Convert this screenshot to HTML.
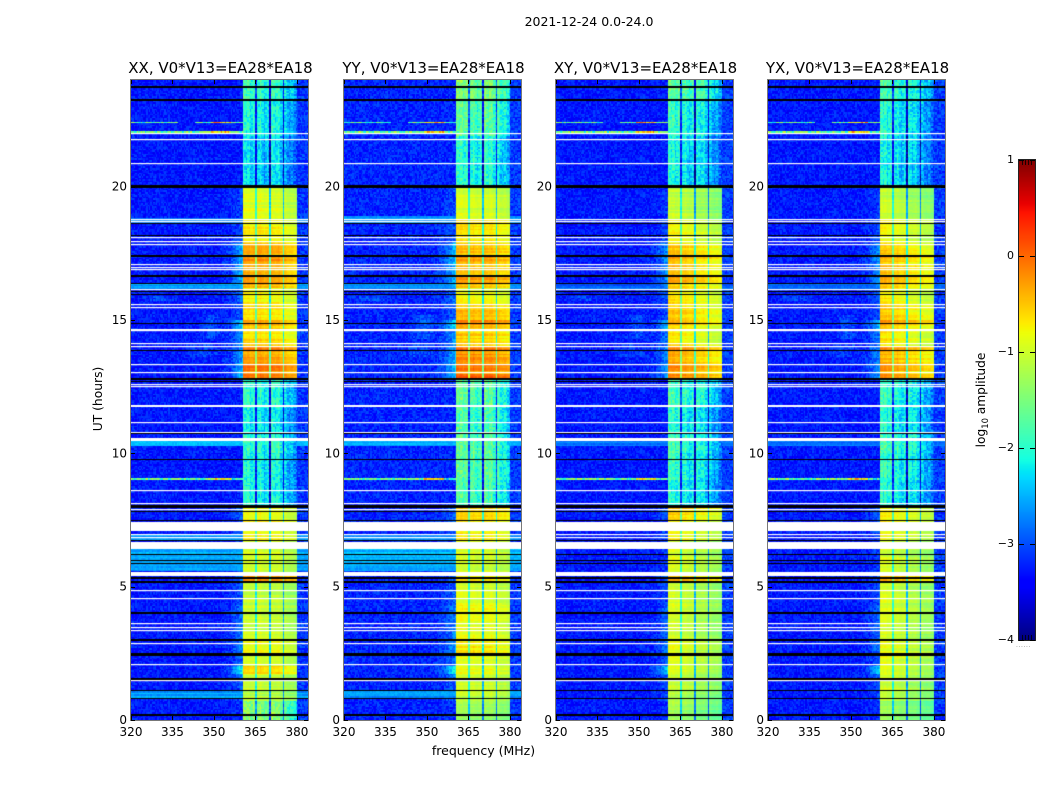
<!DOCTYPE html>
<html lang="en">
<head>
<meta charset="utf-8">
<title>2021-12-24 0.0-24.0</title>
<style>
  html, body { margin: 0; padding: 0; background: #fff; }
  #figure { position: relative; width: 1050px; height: 800px; overflow: hidden; background: #fff; font-family: "DejaVu Sans", "Liberation Sans", sans-serif; }
  canvas { position: absolute; display: block; }
  #chart-overlay { position: absolute; left: 0; top: 0; }
  text { font-family: "DejaVu Sans", "Liberation Sans", sans-serif; fill: #000; }
</style>
</head>
<body>
<div id="figure">
  <canvas id="heat-xx" width="177" height="640" style="left:131px;top:80px"></canvas>
  <canvas id="heat-yy" width="177" height="640" style="left:344px;top:80px"></canvas>
  <canvas id="heat-xy" width="177" height="640" style="left:556px;top:80px"></canvas>
  <canvas id="heat-yx" width="177" height="640" style="left:768px;top:80px"></canvas>
  <canvas id="colorbar-canvas" width="16" height="480" style="left:1019px;top:160px"></canvas>
  <svg id="chart-overlay" width="1050" height="800" xmlns="http://www.w3.org/2000/svg">
    <text x="589" y="26" font-size="12.5" text-anchor="middle">2021-12-24 0.0-24.0</text>
    <text x="483.5" y="755" font-size="12.5" text-anchor="middle">frequency (MHz)</text>
    <text x="0" y="0" font-size="12.3" text-anchor="middle" transform="translate(102,399) rotate(-90)">UT (hours)</text>
    <text x="0" y="0" font-size="12.2" text-anchor="middle" transform="translate(985,400) rotate(-90)">log<tspan font-size="8.4" dy="3">10</tspan><tspan dy="-3"> amplitude</tspan></text>
    <text x="1016" y="647" font-size="6" letter-spacing="0.6" fill="#777" style="fill:#777">......</text>
  </svg>
</div>
<script>
/* ---------- axis data ---------- */
const freqTicks = [320, 335, 350, 365, 380];
const hourTicks = [0, 5, 10, 15, 20];
const colorTicks = [1, 0, -1, -2, -3, -4];
const panelNames = ['xx', 'yy', 'xy', 'yx'];
const panelTitles = ['XX, V0*V13=EA28*EA18', 'YY, V0*V13=EA28*EA18', 'XY, V0*V13=EA28*EA18', 'YX, V0*V13=EA28*EA18'];

/* ---------- time segments (upper edge, hours) ---------- */
const segmentTops = [24, 23.3, 21.9, 20, 18.8, 17.9, 16.2, 15.6, 15, 14.6, 14, 13.4, 12.8, 11.7, 10.7, 10, 9, 8, 7.5, 6.7, 5.4, 5.2, 4.3, 3, 2.5, 2.05, 1.75, 1.5, 1.1, 0.7];

/* in-band log10 amplitude per segment */
const xxBandLevel = [-2.0, -2.2, -2.4, -0.95, -0.75, -0.45, -0.8, -0.7, -0.55, -0.65, -0.4, -0.35, -2.1, -2.3, -2.05, -2.2, -2.2, -0.85, -0.8, -1.05, -0.4, -1.15, -1.05, -0.9, -1.05, -0.6, -1.05, -1.1, -1.2, -1.55];
const yyBandLevel = [-1.6, -1.8, -2.1, -1.0, -0.65, -0.5, -0.85, -0.55, -0.45, -0.55, -0.25, -0.3, -1.8, -1.9, -1.8, -1.8, -1.9, -0.65, -0.7, -1.0, -0.8, -1.0, -0.85, -0.75, -0.9, -0.85, -1.0, -1.05, -1.1, -1.35];
const xyBandLevel = [-1.8, -2.1, -2.25, -1.15, -0.85, -0.6, -0.75, -0.65, -0.65, -0.75, -0.5, -0.55, -2.0, -2.2, -2.0, -2.1, -2.2, -0.65, -0.8, -1.05, -0.55, -1.1, -1.05, -1.0, -1.05, -1.0, -1.05, -1.1, -1.2, -1.35];
const yxBandLevel = [-2.0, -2.2, -2.3, -1.15, -0.9, -0.6, -0.8, -0.65, -0.65, -0.75, -0.5, -0.55, -2.1, -2.2, -2.0, -2.1, -2.2, -0.9, -0.85, -1.05, -0.6, -1.05, -1.05, -0.95, -1.0, -0.95, -1.05, -1.1, -1.25, -1.45];

/* brighter in-band streaks */
const streakTop = [17.4, 16.66, 15.0, 14.0, 13.3, 12.95, 5.35];
const streakBottom = [17.2, 16.4, 14.85, 13.85, 13.1, 12.8, 5.2];
const streakLift = [0.15, 0.2, 0.25, 0.2, 0.25, 0.3, 0.1];

/* rise of the lower band shoulder per segment */
const shoulderLevel = [0, 0, 0, 0.2, 0.3, 0.8, 0.4, 0.3, 1.0, 0.6, 0.7, 0.8, 0, 0, 0, 0, 0, 0.4, 0.3, 0.2, 0.4, 0.3, 0.5, 0.6, 0.4, 1.2, 0.5, 0.3, 0.3, 0.1];
const shoulderShape = [0, 0.02, 0.05, 0.1, 0.15, 0.2, 0.3, 0.45, 0.6, 0.8, 1];
const shoulderGain = [1, 1, 0.8, 0.8];

/* quiet out-of-band level per panel */
const backgroundLevel = [-3.28, -3.22, -3.28, -3.28];
const edgeBackground = [-3.1, -3.1, -3.1, -3.1];

/* spectral windows */
const bandEdges = [360.7, 380];
const gapFreqs = [365.3, 370.4, 375.4];
const gapDepth = [-1.0, -1.4, -1.5];
const windowOffsetXx = [0.05, 0.05, 0, -0.15];
const windowOffsetYy = [0.05, 0, 0, -0.1];
const windowOffsetXy = [0.1, 0, -0.15, -0.25];
const windowOffsetYx = [0.1, 0, -0.15, -0.25];
const quietWindowOffset = [0.05, -0.05, 0.05, -0.15];
const channelRipple = [0.2, 0.05, -0.05, 0.1, 0.05, -0.15, -0.05, 0.05, 0.1, -0.2, 0.1, 0.05, 0.2, 0.05, -0.05, -0.2, -0.05, 0.1, 0, -0.1, 0.2, 0.15, 0.05, -0.05, 0.05, 0.15, 0.05, -0.15, -0.2, 0.1, 0.2, 0.1, -0.05, -0.1, -0.05, 0, -0.1, -0.2, -0.3];

/* wide-band glow rows: top hour, bottom hour, level */
const xxGlowTop = [18.85, 16.37, 10.47, 6.97, 6.41, 1.1];
const xxGlowBottom = [18.62, 16.17, 10.27, 6.75, 5.56, 0.79];
const xxGlowLevel = [-2.7, -2.6, -2.5, -2.65, -2.6, -2.6];
const yyGlowTop = [18.9, 16.4, 10.47, 6.97, 6.41, 1.1];
const yyGlowBottom = [18.62, 16.17, 10.27, 6.75, 5.56, 0.79];
const yyGlowLevel = [-2.7, -2.65, -2.55, -2.65, -2.5, -2.65];
const xyGlowTop = [16.37, 10.47];
const xyGlowBottom = [16.17, 10.27];
const xyGlowLevel = [-2.9, -2.8];
const yxGlowTop = [16.37, 10.47];
const yxGlowBottom = [16.17, 10.27];
const yxGlowLevel = [-2.9, -2.8];

/* faint emission patches */
const patchTop = [15.2, 15.9, 14.1];
const patchBottom = [14.3, 15.7, 13.6];
const patchFreqLow = [344, 322, 338];
const patchFreqHigh = [354, 338, 356];
const patchLift = [0.3, 0.25, 0.2];

/* narrow interference lines */
const spikeHours = [22.4, 22.4, 22.4, 22.05, 22.05, 9.03, 9.03, 9.03];
const spikeFreqLow = [320, 343, 349, 320, 349, 320, 349, 356];
const spikeFreqHigh = [337, 362, 356, 362, 356, 349, 356, 362];
const spikeLevel = [-1.7, -1.6, -0.4, -1.6, -0.6, -1.6, -0.7, -2.0];

/* flagged rows */
const whiteHours = [22.0, 21.78, 20.9, 18.79, 18.7, 18.1, 17.97, 17.85, 17.1, 17.0, 16.9, 16.17, 15.6, 15.49, 14.67, 14.61, 14.15, 14.04, 13.34, 13.06, 12.6, 12.52, 11.16, 10.81, 8.61, 8.12, 7.92, 6.97, 6.87, 6.67, 4.86, 4.56, 3.65, 3.47, 3.36, 2.9, 2.09, 1.5];
const whiteBlockTop = [11.82, 10.56, 7.44, 6.64, 5.56];
const whiteBlockBottom = [11.74, 10.45, 7.09, 6.41, 5.4];
const blackHours = [23.74, 23.25, 20.0, 18.62, 18.16, 17.4, 16.66, 16.37, 16.06, 15.96, 14.87, 13.84, 12.79, 12.69, 10.74, 9.77, 8.0, 7.81, 7.47, 6.75, 6.2, 6.0, 5.88, 5.31, 5.17, 4.0, 3.0, 2.47, 1.55, 1.1, 0.79, 0.19];
const blackThickness = [2, 2, 3, 1, 1, 2, 2, 1, 1, 1, 1, 1, 2, 1, 1, 1, 3, 1, 1, 1, 1, 1, 1, 2, 2, 2, 2, 3, 2, 1, 1, 2];

/* fine grain texture */
const speckle = [0.4, -0.7, 0.1, 0.9, -0.3, -0.9, 0.6, 0.2, -0.5, 0.8, -0.1, -0.6, 0.3, 1, -0.8, 0, 0.5, -0.4, 0.7, -1, 0.2, 0.6, -0.2, -0.7, 0.9, 0.1, -0.5, 0.4, -0.9, 0.3, 0.8, -0.3, -0.1, 0.5, -0.6, 1, -0.8, 0.2, -0.4, 0.7, 0, -1, 0.6, 0.3, -0.2, 0.9, -0.7, 0.1, 0.4, -0.5, 0.8, -0.9, 0.2, -0.3, 0.5, 0.7, -0.6, -0.1, 0.3, -0.8, 0.6];

/* ---------- scales ---------- */
const panelLefts = [131, 344, 556, 768];
const plotTop = 80, plotHeight = 640, plotWidth = 177;
const freqMin = 320, freqMax = 384, hourMax = 24;
const valueMin = -4, valueMax = 1;
const xScale = f => (f - freqMin) / (freqMax - freqMin) * plotWidth;
const yScale = h => (hourMax - h) / hourMax * plotHeight;
const colorScale = v => (valueMax - v) / (valueMax - valueMin) * 480;

function ramp(t, pts) {
  for (let i = 1; i < pts.length; i++) {
    if (t <= pts[i][0]) {
      const a = pts[i - 1], b = pts[i];
      return a[1] + (b[1] - a[1]) * (t - a[0]) / (b[0] - a[0]);
    }
  }
  return pts[pts.length - 1][1];
}
function jet(value) {
  const t = Math.max(0, Math.min(1, (value - valueMin) / (valueMax - valueMin)));
  const r = ramp(t, [[0, 0], [0.35, 0], [0.66, 1], [0.89, 1], [1, 0.5]]);
  const g = ramp(t, [[0, 0], [0.125, 0], [0.375, 1], [0.64, 1], [0.91, 0], [1, 0]]);
  const b = ramp(t, [[0, 0.5], [0.11, 1], [0.34, 1], [0.65, 0], [1, 0]]);
  return 'rgb(' + Math.round(r * 255) + ',' + Math.round(g * 255) + ',' + Math.round(b * 255) + ')';
}

/* ---------- heatmaps ---------- */
const bandLevels = [xxBandLevel, yyBandLevel, xyBandLevel, yxBandLevel];
const windowOffsets = [windowOffsetXx, windowOffsetYy, windowOffsetXy, windowOffsetYx];
const glowTops = [xxGlowTop, yyGlowTop, xyGlowTop, yxGlowTop];
const glowBottoms = [xxGlowBottom, yyGlowBottom, xyGlowBottom, yxGlowBottom];
const glowLevels = [xxGlowLevel, yyGlowLevel, xyGlowLevel, yxGlowLevel];

const channelWidth = 0.5, rowHours = 0.06;
const channelCount = Math.round((freqMax - freqMin) / channelWidth);
const rowCount = Math.round(hourMax / rowHours);

function segmentIndex(h) {
  let s = 0;
  for (let i = 0; i < segmentTops.length; i++) if (h <= segmentTops[i]) s = i;
  return s;
}

function cellValue(p, ch, row) {
  const f = freqMin + (ch + 0.5) * channelWidth;
  const h = hourMax - (row + 0.5) * rowHours;
  const s = segmentIndex(h);
  const grain = speckle[(ch * ch * 3 + row * row * 5 + ch * row * 7 + ch + 3 * row + p * 11) % speckle.length];
  const rowGrain = speckle[(row * 17 + p * 5) % speckle.length];
  const level = bandLevels[p][s];

  if (f >= bandEdges[0] && f <= bandEdges[1]) {
    let w = 0;
    for (let g = 0; g < gapFreqs.length; g++) if (f > gapFreqs[g]) w = g + 1;
    let depth = 0;
    for (let g = 0; g < gapFreqs.length; g++) if (Math.abs(f - gapFreqs[g]) < 0.3) depth = gapDepth[g];
    const quiet = level < -1.45;
    const idx = Math.round((f - bandEdges[0]) / channelWidth);
    const ripple = channelRipple[Math.min(idx, channelRipple.length - 1)] * (quiet ? 1.2 : 0.4);
    const extra = quiet ? quietWindowOffset[w] : rowGrain * 0.13;
    let lift = 0;
    for (let k = 0; k < streakTop.length; k++) {
      if (h <= streakTop[k] && h >= streakBottom[k]) lift = streakLift[k];
    }
    return level + lift + windowOffsets[p][w] + extra + ripple + depth + grain * (quiet ? 0.3 : 0.07);
  }

  let v = f > bandEdges[1] ? edgeBackground[p] : backgroundLevel[p];
  let amp = 0.25;
  for (let g = 0; g < glowTops[p].length; g++) {
    if (h <= glowTops[p][g] && h >= glowBottoms[p][g] && glowLevels[p][g] > v) {
      v = glowLevels[p][g] + rowGrain * 0.14;
      amp = 0.1;
    }
  }
  for (let k = 0; k < patchTop.length; k++) {
    if (h <= patchTop[k] && h >= patchBottom[k] && f >= patchFreqLow[k] && f <= patchFreqHigh[k]) {
      const mid = (patchFreqLow[k] + patchFreqHigh[k]) / 2;
      const half = (patchFreqHigh[k] - patchFreqLow[k]) / 2;
      v += patchLift[k] * (1 - Math.abs(f - mid) / half);
    }
  }
  if (f >= 350 && f < bandEdges[0]) {
    const sw = shoulderShape[Math.min(Math.floor(f - 350), shoulderShape.length - 1)];
    v = Math.max(v, backgroundLevel[p] + shoulderLevel[s] * shoulderGain[p] * sw * 1.1);
  }
  v += grain * amp;
  for (let k = 0; k < spikeHours.length; k++) {
    if (Math.abs(h - spikeHours[k]) < rowHours / 2 && f >= spikeFreqLow[k] && f <= spikeFreqHigh[k]) {
      v = spikeLevel[k] + grain * 0.6;
    }
  }
  return v;
}

panelNames.forEach(function (name, p) {
  const ctx = document.getElementById('heat-' + name).getContext('2d');
  for (let row = 0; row < rowCount; row++) {
    const y0 = Math.round(yScale(hourMax - row * rowHours));
    const y1 = Math.round(yScale(hourMax - (row + 1) * rowHours));
    for (let ch = 0; ch < channelCount; ch++) {
      const x0 = Math.round(xScale(freqMin + ch * channelWidth));
      const x1 = Math.round(xScale(freqMin + (ch + 1) * channelWidth));
      ctx.fillStyle = jet(cellValue(p, ch, row));
      ctx.fillRect(x0, y0, x1 - x0, y1 - y0);
    }
  }
  ctx.fillStyle = '#fff';
  whiteBlockTop.forEach(function (top, i) {
    const y0 = Math.round(yScale(top));
    ctx.fillRect(0, y0, plotWidth, Math.round(yScale(whiteBlockBottom[i])) - y0);
  });
  whiteHours.forEach(function (h) {
    ctx.fillRect(0, Math.round(yScale(h)), plotWidth, 1.2);
  });
  ctx.fillStyle = '#000';
  blackHours.forEach(function (h, i) {
    ctx.fillRect(0, Math.round(yScale(h) - blackThickness[i] / 2), plotWidth, blackThickness[i]);
  });
});

/* ---------- colorbar ---------- */
(function () {
  const ctx = document.getElementById('colorbar-canvas').getContext('2d');
  for (let y = 0; y < 480; y++) {
    ctx.fillStyle = jet(valueMax - (y + 0.5) / 480 * (valueMax - valueMin));
    ctx.fillRect(0, y, 16, 1);
  }
})();

/* ---------- axes ---------- */
const NS = 'http://www.w3.org/2000/svg';
const svg = document.getElementById('chart-overlay');
function svgEl(tag, attrs, txt) {
  const el = document.createElementNS(NS, tag);
  for (const k in attrs) el.setAttribute(k, attrs[k]);
  if (txt !== undefined) el.textContent = txt;
  svg.appendChild(el);
  return el;
}

panelNames.forEach(function (name, p) {
  const left = panelLefts[p];
  const frame = svgEl('rect', { x: left - 0.5, y: plotTop - 0.5, width: plotWidth + 1, height: plotHeight + 1, fill: 'none', stroke: '#777', 'stroke-width': 1 });
  
  

  const title = svgEl('text', { x: left + 89.5, y: 73, 'font-size': 15, 'text-anchor': 'middle' }, panelTitles[p]);
  
  

  freqTicks.forEach(function (f) {
    const x = Math.round(left + xScale(f)) + 0.5;
    const bottomTick = svgEl('line', { x1: x, x2: x, y1: plotTop + plotHeight, y2: plotTop + plotHeight - 4, stroke: '#000', 'stroke-width': 1 });
    
    
    const topTick = svgEl('line', { x1: x, x2: x, y1: plotTop, y2: plotTop + 4, stroke: '#000', 'stroke-width': 1 });
    
    
    const label = svgEl('text', { x: left + xScale(f), y: 736, 'font-size': 12, 'text-anchor': 'middle' }, String(f));
    
    
  });

  hourTicks.forEach(function (h) {
    const y = Math.round(plotTop + yScale(h)) + 0.5;
    const leftTick = svgEl('line', { x1: left, x2: left + 4, y1: y, y2: y, stroke: '#000', 'stroke-width': 1 });
    
    
    const rightTick = svgEl('line', { x1: left + plotWidth - 4, x2: left + plotWidth, y1: y, y2: y, stroke: '#000', 'stroke-width': 1 });
    
    
    const label = svgEl('text', { x: left - 4, y: plotTop + yScale(h) + 4, 'font-size': 12, 'text-anchor': 'end' }, String(h));
    
    
  });
});

const cbFrame = svgEl('rect', { x: 1018.5, y: 159.5, width: 17, height: 481, fill: 'none', stroke: '#222', 'stroke-width': 1 });



colorTicks.forEach(function (v) {
  const y = Math.round(160 + colorScale(v)) + 0.5;
  const tickL = svgEl('line', { x1: 1019, x2: 1024, y1: y, y2: y, stroke: '#000', 'stroke-width': 1 });
  
  
  const tickR = svgEl('line', { x1: 1030, x2: 1035, y1: y, y2: y, stroke: '#000', 'stroke-width': 1 });
  
  
  const label = svgEl('text', { x: 1014, y: 160 + colorScale(v) + 3, 'font-size': 11, 'text-anchor': 'end' }, String(v).replace('-', '\u2212'));
  
  
});

[1022, 1025, 1028, 1031].forEach(function (x) {
  const stubTop = svgEl('line', { x1: x + 0.5, x2: x + 0.5, y1: 160, y2: 165, stroke: '#000', 'stroke-width': 0.8 });
  
  
  const stubBottom = svgEl('line', { x1: x + 0.5, x2: x + 0.5, y1: 635, y2: 640, stroke: '#000', 'stroke-width': 0.8 });
  
  
});
</script>
</body>
</html>
